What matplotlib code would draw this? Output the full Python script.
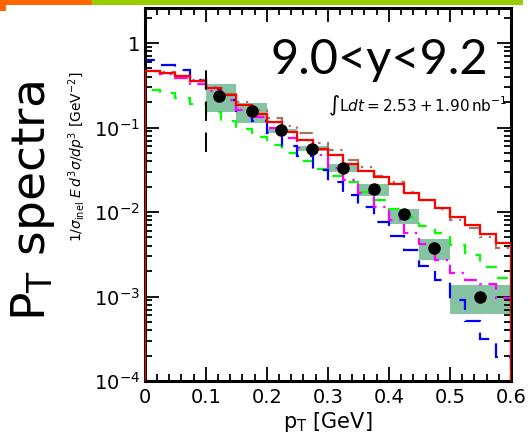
import matplotlib
matplotlib.use("Agg")
import matplotlib.pyplot as plt
import matplotlib.patches as patches
import numpy as np
from matplotlib.ticker import LogLocator, MultipleLocator, FixedLocator, FixedFormatter

# histogram bins (p_T, GeV)
bin_edges = np.linspace(0.0, 0.6, 25)

model_red = [0.468, 0.447, 0.407, 0.351, 0.295, 0.240, 0.186, 0.146, 0.115, 0.0881, 0.0708, 0.0562,
             0.0468, 0.0367, 0.0309, 0.0257, 0.0214, 0.0170, 0.0138, 0.0112, 0.00881, 0.00700, 0.00550, 0.00427]
model_brown = [0.468, 0.457, 0.407, 0.367, 0.305, 0.251, 0.200, 0.162, 0.129, 0.1035, 0.0851, 0.0661,
               0.0537, 0.0417, 0.0339, 0.0269, 0.0224, 0.0174, 0.0140, 0.0110, 0.00813, 0.00646, 0.00501, 0.00380]
model_magenta = [0.468, 0.432, 0.385, 0.331, 0.269, 0.214, 0.162, 0.135, 0.100, 0.0759, 0.0575, 0.0479,
                 0.0331, 0.0240, 0.0166, 0.0115, 0.00813, 0.00562, 0.00417, 0.00269, 0.00191, 0.00158, 0.00140, 0.000955]
model_blue = [0.631, 0.550, 0.479, 0.367, 0.285, 0.214, 0.158, 0.119, 0.0871, 0.0603, 0.0457, 0.0316,
              0.0229, 0.0158, 0.0115, 0.00759, 0.00525, 0.00351, 0.00229, 0.00155, 0.000912, 0.000513, 0.000316, 0.000191]
model_green = [0.282, 0.257, 0.224, 0.191, 0.153, 0.119, 0.0955, 0.0776, 0.0617, 0.0501, 0.0398, 0.0324,
               0.0269, 0.0224, 0.0174, 0.0138, 0.0110, 0.00871, 0.00692, 0.00562, 0.00407, 0.00309, 0.00224, 0.00166]

# measured points and systematic boxes
data_x = [0.122, 0.175, 0.224, 0.274, 0.324, 0.375, 0.425, 0.474, 0.549]
data_y = [0.238, 0.155, 0.0923, 0.0550, 0.0331, 0.0186, 0.00955, 0.00372, 0.00100]
box_edges = [0.1, 0.15, 0.2, 0.25, 0.3, 0.35, 0.4, 0.45, 0.5, 0.6]
box_low = [0.151, 0.112, 0.0861, 0.0525, 0.0295, 0.0155, 0.00724, 0.00269, 0.000617]
box_high = [0.324, 0.195, 0.0966, 0.0603, 0.0367, 0.0214, 0.0110, 0.00479, 0.00138]

cut_x = 0.1
cut_y = [0.052, 0.48]

x_ticks = [0, 0.1, 0.2, 0.3, 0.4, 0.5, 0.6]
x_labels = ["0", "0.1", "0.2", "0.3", "0.4", "0.5", "0.6"]
y_ticks = [1e-4, 1e-3, 1e-2, 1e-1, 1]
y_labels = [r"$10^{-4}$", r"$10^{-3}$", r"$10^{-2}$", r"$10^{-1}$", "1"]

plt.rcParams['mathtext.fontset'] = 'dejavusans'

fig = plt.figure(figsize=(5.3, 4.38), dpi=100)

# slide header bar
fig.patches.append(patches.Rectangle((0, 1 - 5 / 438), 91.5 / 530, 5 / 438, transform=fig.transFigure,
                                     facecolor='#ff6600', edgecolor='none'))
fig.patches.append(patches.Rectangle((0, 1 - 10.5 / 438), 6 / 530, 10.5 / 438, transform=fig.transFigure,
                                     facecolor='#ff6600', edgecolor='none'))
fig.patches.append(patches.Rectangle((91.5 / 530, 1 - 5 / 438), 431 / 530, 5 / 438, transform=fig.transFigure,
                                     facecolor='#99cc00', edgecolor='none'))

fig.text(0.062, 0.54, r"P$_\mathrm{T}$ spectra", rotation=90, fontsize=34,
         ha='center', va='center')

ax = fig.add_axes([144.7 / 530, 57 / 438, 366.3 / 530, 373 / 438])
ax.set_xlim(0, 0.6)
ax.set_ylim(1e-4, 2.6)
ax.set_yscale('log')

for i in range(len(data_x)):
    rect = patches.Rectangle((box_edges[i], box_low[i]), box_edges[i + 1] - box_edges[i],
                             box_high[i] - box_low[i], facecolor='#86c3a3', edgecolor='none', zorder=1)
    ax.add_patch(rect)

ax.stairs(model_green, bin_edges, color='#00ff00', lw=1.6, linestyle=(0, (5, 5)), zorder=2)
ax.stairs(model_blue, bin_edges, color='#0000ff', lw=1.6, linestyle=(0, (7, 5)), zorder=2)
ax.stairs(model_magenta, bin_edges, color='#ff00ff', lw=1.6, linestyle=(0, (6, 3, 1, 3)), zorder=2)
ax.stairs(model_brown, bin_edges, color='#a07860', lw=1.6, linestyle=(0, (1, 3, 1, 3, 6, 3)), zorder=2)
ax.stairs(model_red, bin_edges, color='#ff0000', lw=1.6, zorder=3)

ax.vlines(cut_x, cut_y[0], cut_y[1], color='black', lw=1.4, linestyles=(0, (10, 6)), zorder=3)

ax.plot(data_x, data_y, 'o', color='black', ms=8, zorder=4)

ax.xaxis.set_major_locator(FixedLocator(x_ticks))
ax.xaxis.set_major_formatter(FixedFormatter(x_labels))
ax.xaxis.set_minor_locator(MultipleLocator(0.02))
ax.yaxis.set_major_locator(FixedLocator(y_ticks))
ax.yaxis.set_major_formatter(FixedFormatter(y_labels))
ax.yaxis.set_minor_locator(LogLocator(base=10, subs=np.arange(2, 10)))
ax.tick_params(which='both', direction='in', top=True, right=True, width=1.3)
ax.tick_params(which='major', length=10, labelsize=14)
ax.tick_params(which='minor', length=5)
ax.tick_params(axis='x', pad=5)
for s in ax.spines.values():
    s.set_linewidth(2.2)

ax.set_xlabel(r"p$_\mathrm{T}$ [GeV]", fontsize=15, labelpad=2)
ax.set_ylabel(r"$1/\sigma_\mathrm{inel}\ E\,d^3\sigma/dp^3\ [\mathrm{GeV}^{-2}]$", fontsize=10)
ax.yaxis.set_label_coords(-0.155, 0.6)

ax.text(0.937, 0.86, "9.0<y<9.2", transform=ax.transAxes, ha='right', va='center',
        fontsize=35, family='Lato')
ax.text(0.99, 0.737, r"$\int\mathrm{L}dt = 2.53+1.90\,\mathrm{nb}^{-1}$", transform=ax.transAxes,
        ha='right', va='center', fontsize=11)

fig.savefig("out.png", dpi=100)
